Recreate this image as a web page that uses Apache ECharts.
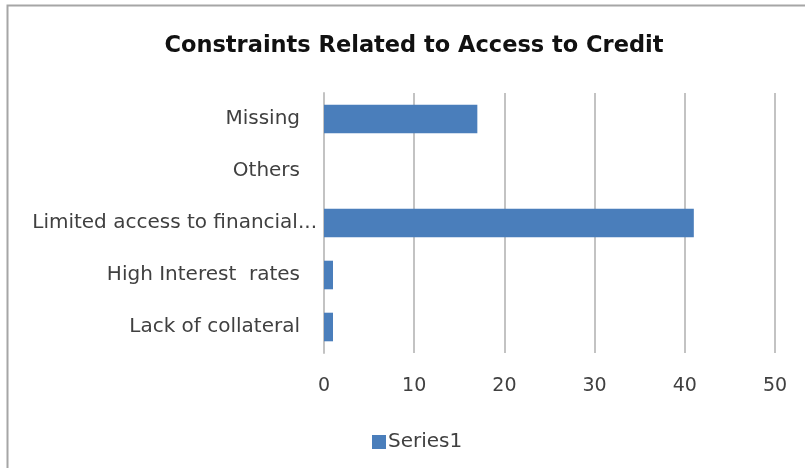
<!DOCTYPE html>
<html>
<head>
<meta charset="utf-8">
<script src="https://cdn.jsdelivr.net/npm/echarts@6/dist/echarts.min.js"></script>
<style>
  html, body { margin: 0; padding: 0; background: #fff; }
  #chart { width: 805px; height: 468px; }
</style>
</head>
<body>
<div id="chart"></div>
<script>
// Categories listed bottom-to-top along the vertical axis
const categories = [
  'Lack of collateral',
  'High Interest  rates',
  'Limited access to financial...',
  'Others',
  'Missing'
];
const series1 = [1, 1, 41, 0, 17];
const xTicks = { min: 0, max: 50, interval: 10 };

const chart = echarts.init(document.getElementById('chart'));
const labelFont = '"DejaVu Sans", sans-serif';
const textColor = '#404040';

chart.setOption({
  animation: false,
  backgroundColor: '#fff',
  graphic: [{
    type: 'rect',
    shape: { x: 7.5, y: 5.5, width: 820, height: 480 },
    style: { fill: 'none', stroke: '#a6a6a6', lineWidth: 2 },
    silent: true
  }],
  title: {
    text: 'Constraints Related to Access to Credit',
    left: 409,
    textAlign: 'center',
    top: 30,
    textStyle: { fontFamily: labelFont, fontWeight: 'bold', fontSize: 22.5, color: '#111' }
  },
  grid: { left: 324, right: 30, top: 93, bottom: 115, containLabel: false },
  xAxis: {
    type: 'value',
    min: xTicks.min, max: xTicks.max, interval: xTicks.interval,
    axisLine: { show: false },
    axisTick: { show: false },
    splitLine: { lineStyle: { color: '#c3c3c3', width: 2 } },
    axisLabel: { margin: 24, color: textColor, fontFamily: labelFont, fontSize: 19 }
  },
  yAxis: {
    type: 'category',
    data: categories,
    axisLine: { show: true, lineStyle: { color: '#c3c3c3', width: 2 } },
    axisTick: { show: false },
    axisLabel: {
      margin: 7,
      color: textColor,
      fontFamily: labelFont,
      fontSize: 20,
      formatter: function (v) {
        return v.endsWith('...') ? '{wide|' + v + '}' : '{std|' + v + '}';
      },
      rich: {
        std: { fontFamily: labelFont, fontSize: 20, color: textColor, padding: [0, 17, 0, 0] },
        wide: { fontFamily: labelFont, fontSize: 20, color: textColor }
      }
    }
  },
  legend: {
    left: 367,
    top: 427,
    itemWidth: 14,
    itemHeight: 14,
    itemGap: 4,
    icon: 'rect',
    textStyle: { fontFamily: labelFont, fontSize: 20, color: textColor, padding: [0, 0, 0, -3] },
    data: ['Series1']
  },
  series: [{
    name: 'Series1',
    type: 'bar',
    data: series1,
    barWidth: '55%',
    itemStyle: { color: '#4a7ebb' }
  }]
});
</script>
</body>
</html>
